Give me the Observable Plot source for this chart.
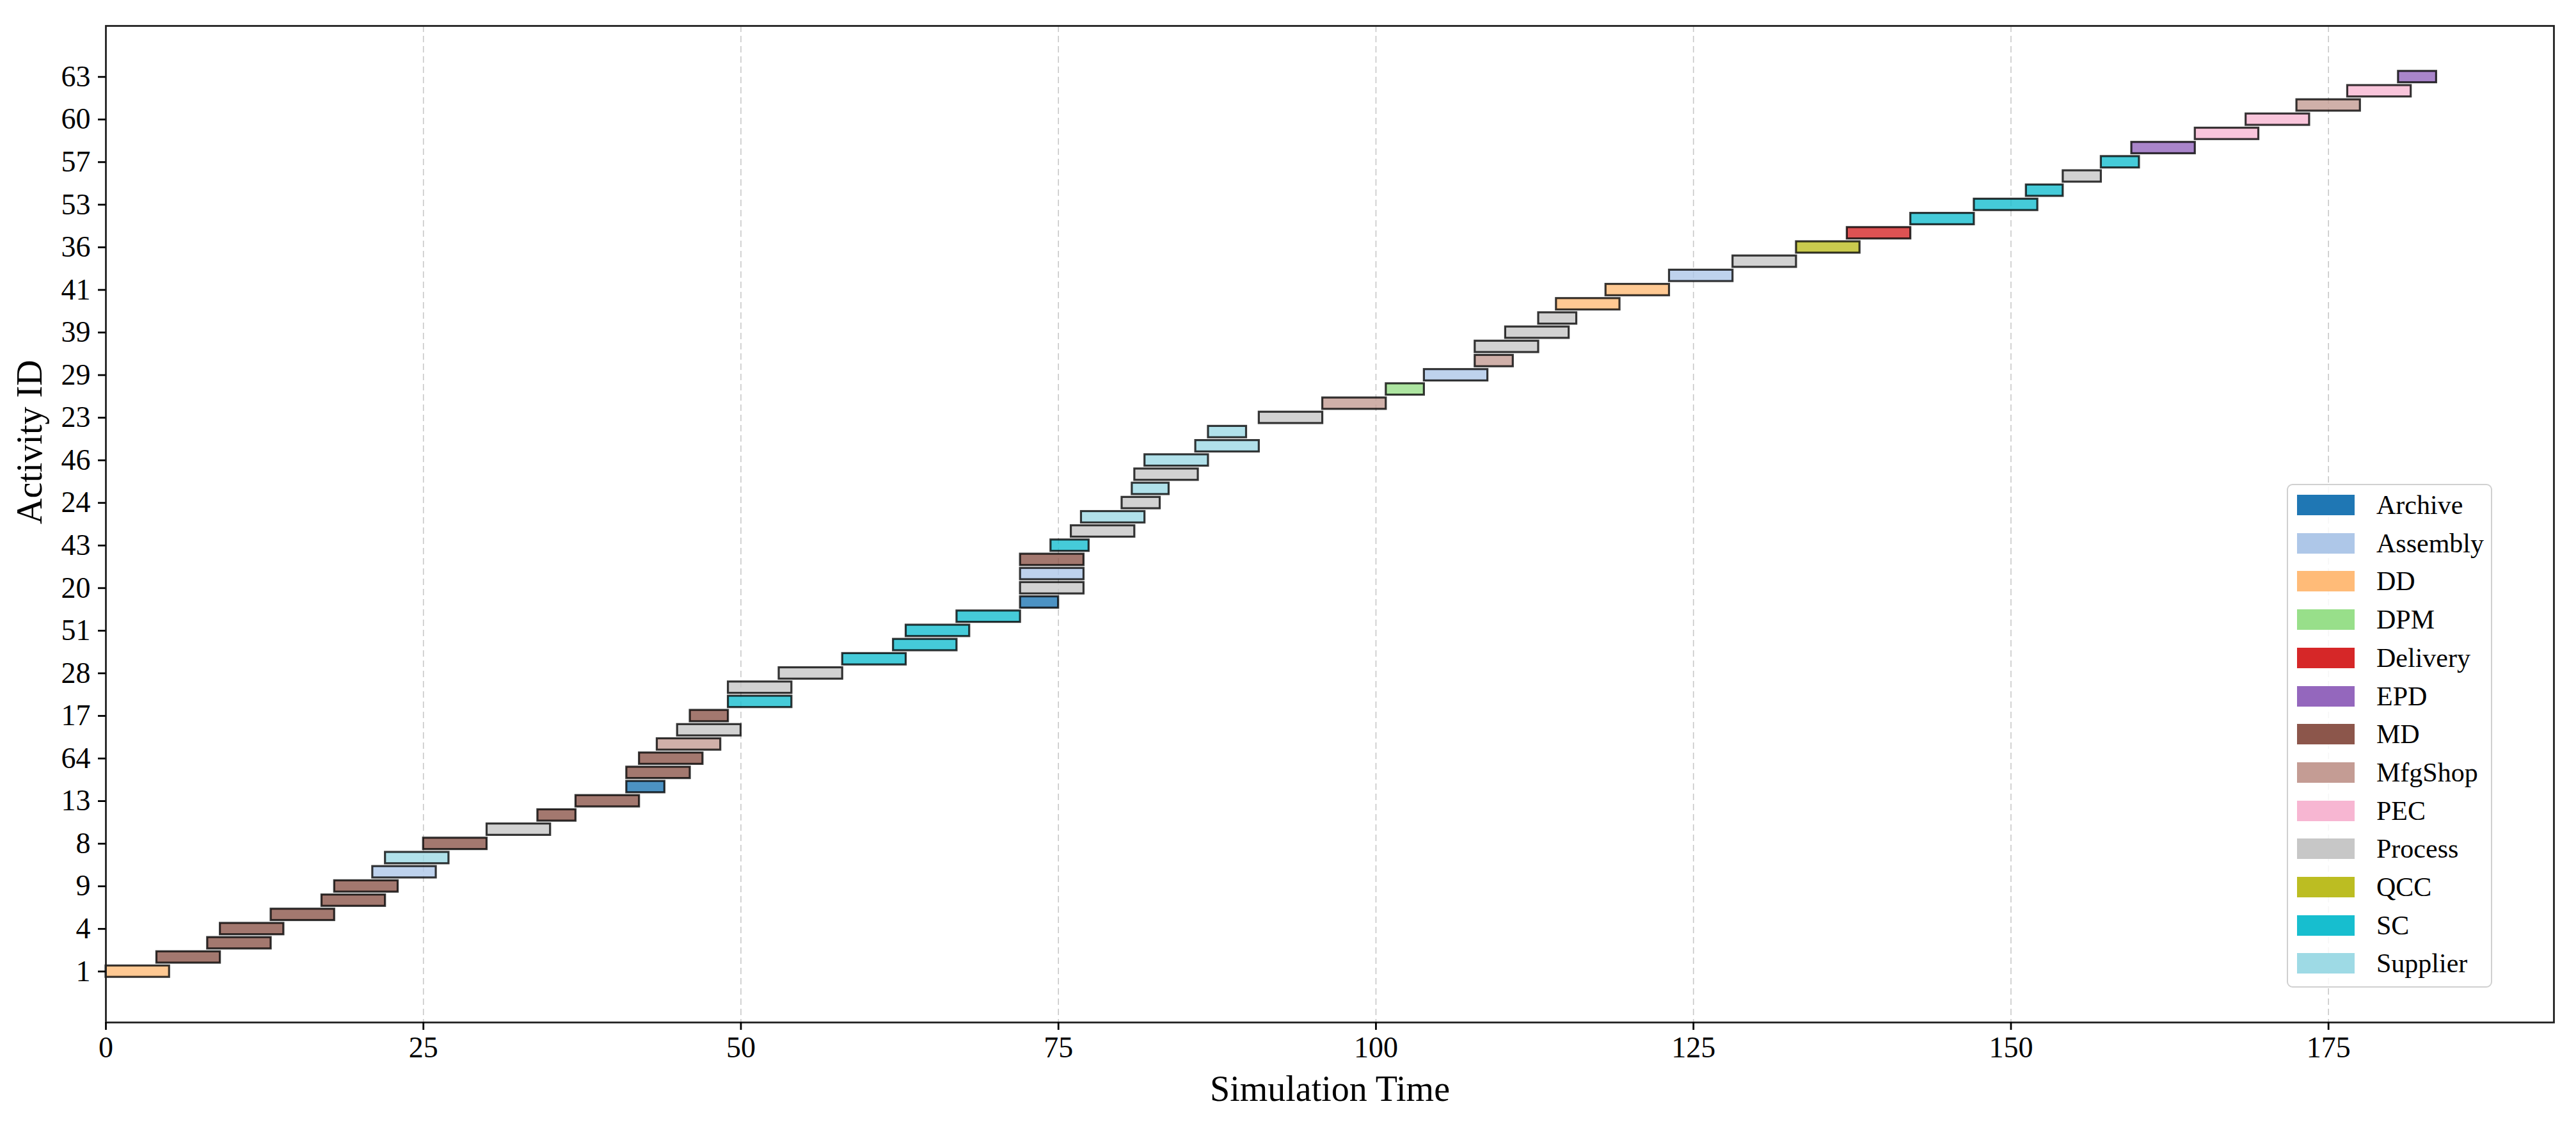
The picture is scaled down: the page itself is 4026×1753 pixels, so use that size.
<!DOCTYPE html>
<html>
<head>
<meta charset="utf-8">
<script src="https://cdn.jsdelivr.net/npm/d3@7"></script>
<script src="https://cdn.jsdelivr.net/npm/@observablehq/plot@0.6"></script>
<style>
  html, body { margin: 0; padding: 0; background: #fff; }
  #wrap { position: relative; width: 4026px; height: 1753px; }
  #legend {
    position: absolute; left: 3574px; top: 756px; width: 321px; height: 787px;
    box-sizing: border-box; border: 2.5px solid #d0d0d0; border-radius: 9px;
    background: rgba(255,255,255,0.85);
    font-family: 'Liberation Serif', 'DejaVu Serif', serif; font-size: 42px; color: #000;
  }
  .entry { position: absolute; left: 0; height: 40px; width: 100%; }
  .patch { position: absolute; left: 14px; top: 4px; width: 90px; height: 32px; }
  .lab { position: absolute; left: 138px; top: 50%; transform: translateY(-50%); line-height: 1; white-space: nowrap; }
</style>
</head>
<body>
<div id="wrap"><div id="chart"></div><div id="legend"></div></div>
<script>
// ---- data ----
const groupOrder = ["Archive","Assembly","DD","DPM","Delivery","EPD","MD","MfgShop","PEC","Process","QCC","SC","Supplier"];
const groupColors = ["#1f77b4","#aec7e8","#ffbb78","#98df8a","#d62728","#9467bd","#8c564b","#c49c94","#f7b6d2","#c7c7c7","#bcbd22","#17becf","#9edae5"];

// one entry per row (row 0 at the bottom)
const taskGroup = [
  "DD","MD","MD","MD","MD","MD","MD","Assembly","Supplier","MD",
  "Process","MD","MD","Archive","MD","MD","MfgShop","Process","MD","SC",
  "Process","Process","SC","SC","SC","SC","Archive","Process","Assembly","MD",
  "SC","Process","Supplier","Process","Supplier","Process","Supplier","Supplier","Supplier","Process",
  "MfgShop","DPM","Assembly","MfgShop","Process","Process","Process","DD","DD","Assembly",
  "Process","QCC","Delivery","SC","SC","SC","Process","SC","EPD","PEC",
  "PEC","MfgShop","PEC","EPD"
];
const taskStart = [
  0,4,8,9,13,17,18,21,22,25,
  30,34,37,41,41,42,43.4,45,46,49,
  49,53,58,62,63,67,72,72,72,72,
  74.4,76,76.8,80,80.8,81,81.8,85.8,86.8,90.8,
  95.8,100.8,103.8,107.8,107.8,110.2,112.8,114.2,118.1,123.1,
  128.1,133.1,137.1,142.1,147.1,151.2,154.1,157.1,159.5,164.5,
  168.5,172.5,176.5,180.5
];
const taskEnd = [
  5,9,13,14,18,22,23,26,27,30,
  35,37,42,44,46,47,48.4,50,49,54,
  54,58,63,67,68,72,75,77,77,77,
  77.4,81,81.8,83,83.7,86,86.8,90.8,89.8,95.8,
  100.8,103.8,108.8,110.8,112.8,115.2,115.8,119.2,123.1,128.1,
  133.1,138.1,142.1,147.1,152.1,154.1,157.1,160.1,164.5,169.5,
  173.5,177.5,181.5,183.5
];
// tick labels for every third row (0, 3, 6, ... 63)
const yTickLabels = ["1","4","9","8","13","64","17","28","51","20","43","24","46","23","29","39","41","36","53","57","60","63"];
const xTicks = [0, 25, 50, 75, 100, 125, 150, 175];

// ---- build table ----
const tasks = taskGroup.map((g, i) => ({row: i, group: g, start: taskStart[i], end: taskEnd[i]}));
const yTicks = yTickLabels.map((_, i) => i * 3);

const font = "'Liberation Serif', 'DejaVu Serif', serif";

const chart = Plot.plot({
  width: 4026,
  height: 1753,
  marginLeft: 165,
  marginRight: 35,
  marginTop: 40,
  marginBottom: 156,
  style: {fontFamily: font, fontSize: "46px", color: "#000", background: "#fff"},
  x: {domain: [0, 192.75]},
  y: {domain: [-3.59, 66.59]},
  color: {domain: groupOrder, range: groupColors},
  marks: [
    Plot.gridX(xTicks, {stroke: "#b0b0b0", strokeOpacity: 0.7, strokeWidth: 1.6, strokeDasharray: "10,6"}),
    Plot.rect(tasks, {
      x1: "start", x2: "end",
      y1: d => d.row - 0.4, y2: d => d.row + 0.4,
      fill: "group", fillOpacity: 0.8,
      stroke: "#000", strokeOpacity: 0.78, strokeWidth: 3.2
    }),
    Plot.frame({stroke: "#222", strokeWidth: 2.8}),
    Plot.axisX(xTicks, {tickSize: 12, tickPadding: 10, strokeWidth: 2.8, fontSize: 46, label: null}),
    Plot.axisY(yTicks, {tickSize: 12, tickPadding: 12, strokeWidth: 2.8, fontSize: 46, label: null,
      tickFormat: d => yTickLabels[d / 3]}),
    Plot.text(["Simulation Time"], {text: d => d, frameAnchor: "bottom", dy: 105, fontSize: 56, lineAnchor: "middle", fill: "#000"}),
    Plot.text(["Activity ID"], {text: d => d, frameAnchor: "left", dx: -118, rotate: -90, fontSize: 56, lineAnchor: "middle", fill: "#000"})
  ]
});
document.getElementById("chart").appendChild(chart);

// ---- legend (inside the axes, lower right) ----
const legend = document.getElementById("legend");
groupOrder.forEach((g, i) => {
  const e = document.createElement("div");
  e.className = "entry";
  e.style.top = (11 + i * 59.7) + "px";
  const p = document.createElement("div");
  p.className = "patch";
  p.style.background = groupColors[i];
  const t = document.createElement("div");
  t.className = "lab";
  t.textContent = g;
  e.appendChild(p); e.appendChild(t);
  legend.appendChild(e);
});
</script>
</body>
</html>
